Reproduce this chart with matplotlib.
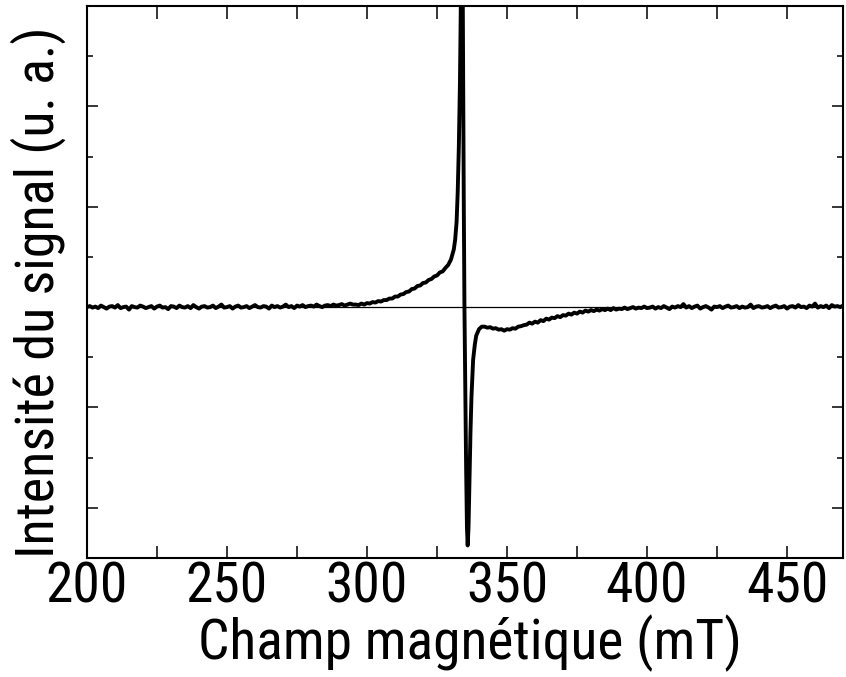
import numpy as np
import matplotlib
matplotlib.use("Agg")
import matplotlib.pyplot as plt
from matplotlib import font_manager as fm
from matplotlib.ticker import MultipleLocator

# field grids (mT) and read-off signal values (arb. units)
field_low = np.arange(200, 296, 1.0)
signal_low = [
    0.00, 0.02, -0.01, 0.01, -0.02, 0.03, 0.00, -0.03, 0.01, 0.02,
    -0.01, 0.04, -0.02, 0.00, 0.01, -0.05, 0.02, 0.00, -0.01, 0.03,
    0.01, -0.02, 0.00, 0.02, -0.03, 0.01, 0.03, -0.01, 0.00, -0.04,
    0.02, 0.01, -0.02, 0.03, 0.00, -0.01, 0.02, -0.02, 0.04, 0.00,
    -0.03, 0.01, 0.02, -0.01, 0.00, 0.03, -0.02, 0.01, 0.05, -0.01,
    0.00, 0.02, -0.03, 0.01, 0.03, -0.01, 0.00, 0.02, -0.02, 0.01,
    0.04, 0.00, -0.01, 0.02, 0.01, -0.03, 0.03, 0.00, 0.02, -0.01,
    0.01, 0.05, 0.00, 0.02, -0.02, 0.03, 0.01, 0.04, 0.00, 0.02,
    0.03, 0.01, 0.05, 0.02, 0.00, 0.03, 0.04, 0.02, 0.05, 0.03,
    0.04, 0.06, 0.03, 0.05, 0.07, 0.05,
]

field_mid = np.arange(296, 332, 1.0)
signal_mid = [
    0.05, 0.04, 0.07, 0.05, 0.08, 0.07, 0.10, 0.09, 0.12, 0.11,
    0.14, 0.14, 0.17, 0.17, 0.21, 0.21, 0.25, 0.26, 0.30, 0.31,
    0.36, 0.37, 0.42, 0.43, 0.48, 0.49, 0.54, 0.56, 0.61, 0.63,
    0.69, 0.71, 0.78, 0.84, 0.95, 1.15,
]

field_peak = [331.5, 332.0, 332.4, 332.8, 333.2, 333.6, 334.0, 334.3, 334.55,
              334.8, 335.1, 335.4, 335.7, 335.95, 336.25, 336.6, 336.95, 337.3,
              337.9, 338.5, 339.0, 340.0, 341.0]
signal_peak = [1.35, 1.7, 2.3, 3.2, 4.5, 6.5, 8.5, 5.0, 2.2,
               0.0, -1.6, -3.2, -4.4, -4.75, -4.4, -3.4, -2.5, -1.8,
               -1.05, -0.75, -0.57, -0.44, -0.39]

field_high = np.arange(342, 471, 1.0)
signal_high = [
    -0.39, -0.41, -0.40, -0.43, -0.42, -0.45, -0.44, -0.47, -0.44, -0.45,
    -0.42, -0.43, -0.39, -0.38, -0.36, -0.35, -0.31, -0.33, -0.29, -0.31,
    -0.26, -0.28, -0.23, -0.25, -0.21, -0.22, -0.18, -0.20, -0.16, -0.17,
    -0.13, -0.15, -0.11, -0.13, -0.09, -0.11, -0.07, -0.09, -0.06, -0.08,
    -0.05, -0.07, -0.04, -0.06, -0.03, -0.06, -0.02, -0.05, -0.03, -0.04,
    -0.01, -0.04, -0.02, 0.00, -0.03, -0.01, -0.02, 0.01, -0.02, -0.01,
    0.01, -0.03, 0.00, -0.02, 0.02, -0.01, -0.04, 0.01, -0.01, 0.02,
    0.00, 0.06, -0.01, 0.02, -0.02, 0.01, 0.03, -0.03, 0.00, 0.02,
    -0.01, -0.05, 0.01, 0.00, 0.02, -0.02, 0.01, 0.03, -0.01, 0.00,
    0.02, -0.02, 0.01, -0.01, 0.00, 0.05, -0.02, 0.01, 0.02, -0.01,
    0.00, 0.02, -0.02, 0.01, 0.03, -0.01, 0.00, 0.02, -0.03, 0.01,
    0.02, -0.01, 0.04, 0.00, 0.01, -0.02, 0.03, 0.01, 0.07, -0.01,
    0.02, 0.00, 0.03, -0.02, 0.04, 0.01, 0.02, 0.00, 0.03,
]

x_ticks = [200, 250, 300, 350, 400, 450]
x_label = "Champ magnétique (mT)"
y_label = "Intensité du signal (u. a.)"

field = np.concatenate([field_low, field_mid, field_peak, field_high])
signal = np.concatenate([signal_low, signal_mid, signal_peak, signal_high])

# the original text is quite condensed -> look for a narrow face
fonts = [f for f in fm.fontManager.ttflist
         if f.style == "normal" and f.weight in (400, "normal", "regular")]
pick = None
for want in ["Liberation Sans Narrow", "Roboto Condensed"]:
    hits = [f for f in fonts if f.name == want]
    if hits:
        pick = hits[0]
        break
if pick is None:
    hits = [f for f in fonts if f.name in ("DejaVu Sans", "Roboto")
            and f.stretch in ("condensed", "semi-condensed")]
    if hits:
        pick = hits[0]
if pick is None:
    hits = [f for f in fonts if f.name == "Roboto" and f.stretch == "normal"]
    if hits:
        pick = hits[0]

if pick is not None:
    fp = fm.FontProperties(fname=pick.fname)
else:
    fp = fm.FontProperties(family="DejaVu Sans")
name = fp.get_name()
if "Narrow" in name:
    sz = (40, 40, 41)
elif "Condensed" in name or (pick is not None and pick.stretch != "normal"):
    sz = (40, 40, 39)
else:
    sz = (37, 36, 35)

fig = plt.figure(figsize=(8.46, 6.77), dpi=100)
ax = fig.add_axes([0.1028, 0.1758, 0.8937, 0.8153])

ax.axhline(0, color="black", lw=0.9, zorder=1)
ax.plot(field, signal, color="black", lw=2.8, zorder=2)

ax.set_xlim(200, 470)
ax.set_ylim(-5, 6)

ax.set_xticks(x_ticks)
ax.set_xticklabels([str(t) for t in x_ticks], fontproperties=fp, fontsize=sz[0])
ax.xaxis.set_minor_locator(MultipleLocator(25))
ax.yaxis.set_major_locator(MultipleLocator(2))
ax.yaxis.set_minor_locator(MultipleLocator(1))
ax.tick_params(axis="both", which="both", direction="in", top=True, right=True,
               width=1.1, color="black")
ax.tick_params(axis="x", which="both", length=9, pad=2)
ax.tick_params(axis="y", which="major", length=8, labelleft=False)
ax.tick_params(axis="y", which="minor", length=4)

for s in ax.spines.values():
    s.set_linewidth(1.5)

ax.set_xlabel(x_label, fontproperties=fp, fontsize=sz[1])
ax.set_ylabel(y_label, fontproperties=fp, fontsize=sz[2])
ax.xaxis.set_label_coords(0.507, -0.102)
ax.yaxis.set_label_coords(-0.028, 0.481)

fig.savefig("out.png", dpi=100)
